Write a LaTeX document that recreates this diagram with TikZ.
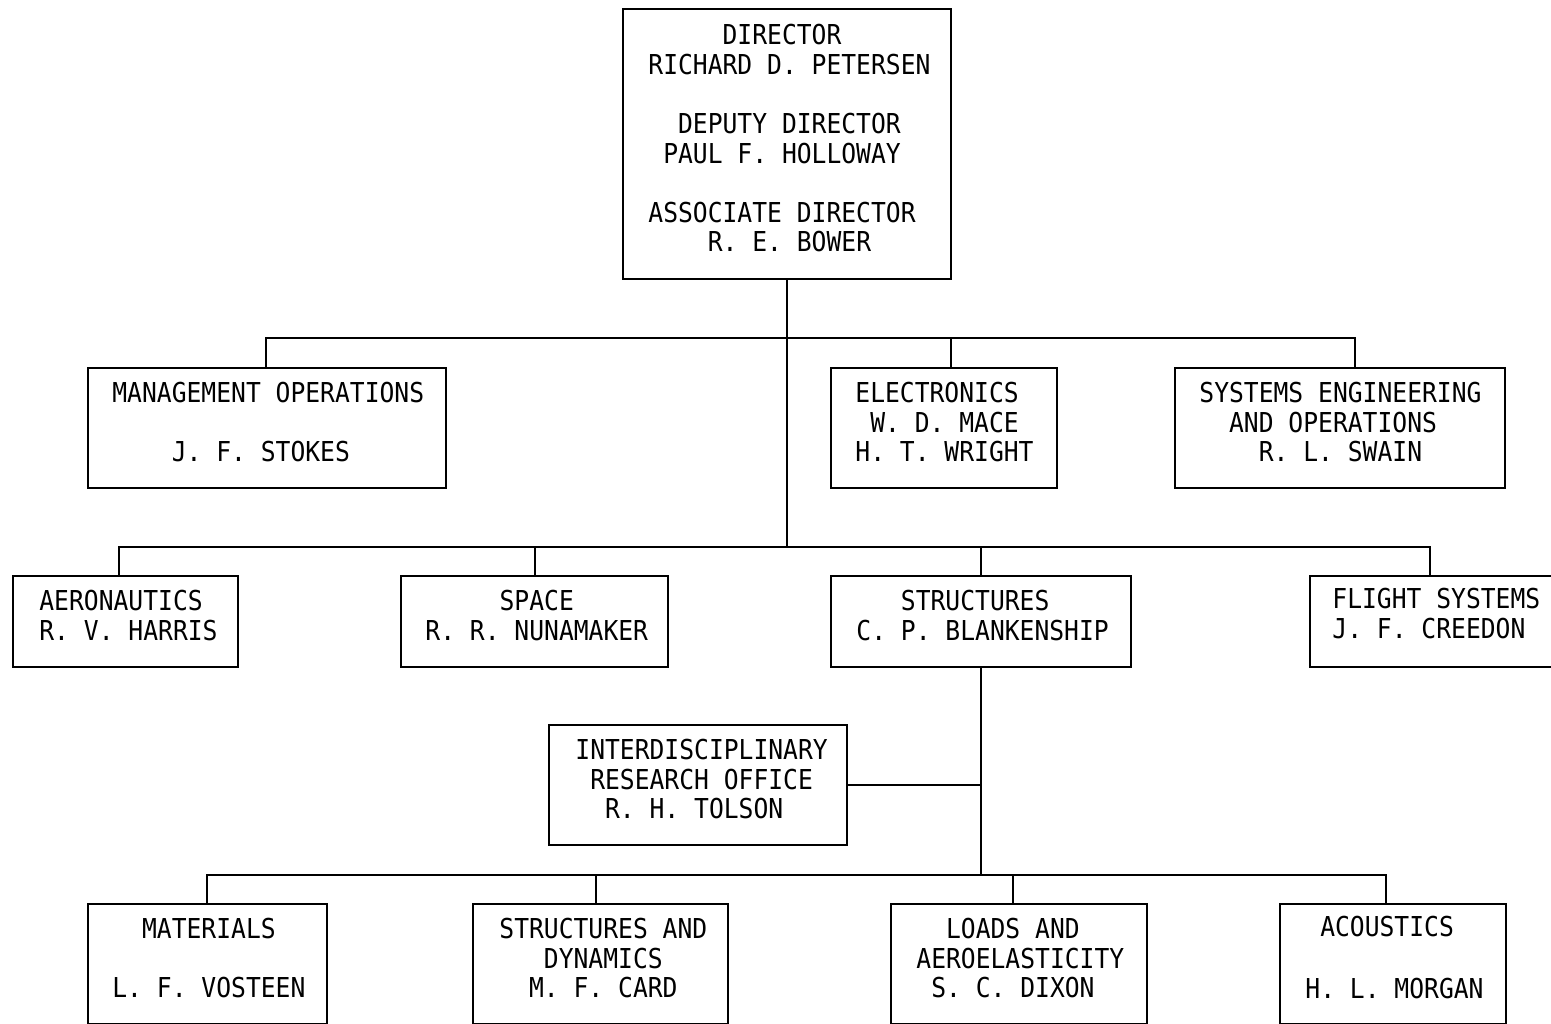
\documentclass[tikz,border=0pt]{standalone}
\usepackage{fontspec}
\usetikzlibrary{fit}
\newfontfamily\chartfont[FakeStretch=0.9]{DejaVu Sans Mono}
\tikzset{
  orgbox/.style={draw, line width=1.1pt, inner sep=0pt},
  orgtxt/.style={font=\chartfont\fontsize{13.7}{14.8}\selectfont, align=left, anchor=north west, inner sep=0pt},
  wire/.style={line width=1.1pt}
}
\begin{document}
\begin{tikzpicture}[x=0.5pt,y=-0.5pt]
\clip (0,0) rectangle (1551,1023);
% boxes
\node[orgbox, fit={(623,9) (951,279)}] (dir) {};
\node[orgbox, fit={(88,368) (446,488)}] (mgmt) {};
\node[orgbox, fit={(831,368) (1057,488)}] (elec) {};
\node[orgbox, fit={(1175,368) (1505,488)}] (sys) {};
\node[orgbox, fit={(13,576) (238,667)}] (aero) {};
\node[orgbox, fit={(401,576) (668,667)}] (space) {};
\node[orgbox, fit={(831,576) (1131,667)}] (struct) {};
\node[orgbox, fit={(1310,576) (1566,667)}] (flight) {};
\node[orgbox, fit={(549,725) (847,845)}] (idro) {};
\node[orgbox, fit={(88,904) (327,1024)}] (mat) {};
\node[orgbox, fit={(473,904) (728,1024)}] (sdyn) {};
\node[orgbox, fit={(891,904) (1147,1024)}] (loads) {};
\node[orgbox, fit={(1280,904) (1506,1024)}] (acou) {};
% texts
\node[orgtxt] (tdir) at (648,24) {~~~~~DIRECTOR\\RICHARD D. PETERSEN\\[14.8pt]~~DEPUTY DIRECTOR\\~PAUL F. HOLLOWAY\\[14.8pt]ASSOCIATE DIRECTOR\\~~~~R. E. BOWER};
\node[orgtxt] (tmgmt) at (112,382) {MANAGEMENT OPERATIONS\\[14.8pt]~~~~J. F. STOKES};
\node[orgtxt] (telec) at (855,382) {ELECTRONICS\\~W. D. MACE\\H. T. WRIGHT};
\node[orgtxt] (tsys) at (1199,382) {SYSTEMS ENGINEERING\\~~AND OPERATIONS\\~~~~R. L. SWAIN};
\node[orgtxt] (taero) at (39,590) {AERONAUTICS\\R. V. HARRIS};
\node[orgtxt] (tspace) at (425,590) {~~~~~SPACE\\R. R. NUNAMAKER};
\node[orgtxt] (tstruct) at (856,590) {~~~STRUCTURES\\C. P. BLANKENSHIP};
\node[orgtxt] (tflight) at (1332,588) {FLIGHT SYSTEMS\\J. F. CREEDON};
\node[orgtxt] (tidro) at (575,739) {INTERDISCIPLINARY\\~RESEARCH OFFICE\\~~R. H. TOLSON};
\node[orgtxt] (tmat) at (112,918) {~~MATERIALS\\[14.8pt]L. F. VOSTEEN};
\node[orgtxt] (tsdyn) at (499,918) {STRUCTURES AND\\~~~DYNAMICS\\~~M. F. CARD};
\node[orgtxt] (tloads) at (916,918) {~~LOADS AND\\AEROELASTICITY\\~S. C. DIXON};
\node[orgtxt] (tacou) at (1305,916) {~ACOUSTICS\\[16pt]H. L. MORGAN};
% bus coordinates
\coordinate (b1l) at (266,338);
\coordinate (b1e) at (951,338);
\coordinate (b1r) at (1355,338);
\coordinate (b2l) at (119,547);
\coordinate (b2s) at (535,547);
\coordinate (b2c) at (981,547);
\coordinate (b2r) at (1430,547);
\coordinate (b3l) at (207,875);
\coordinate (b3s) at (596,875);
\coordinate (b3c) at (981,875);
\coordinate (b3d) at (1013,875);
\coordinate (b3r) at (1386,875);
\coordinate (bid) at (981,785);
% connectors
\draw[wire] (dir.south) -- (dir.south |- b2l);
\draw[wire] (b1l |- mgmt.north) -- (b1l) -- (b1r) -- (b1r |- sys.north);
\draw[wire] (b1e) -- (b1e |- elec.north);
\draw[wire] (b2l |- aero.north) -- (b2l) -- (b2r) -- (b2r |- flight.north);
\draw[wire] (b2s) -- (b2s |- space.north);
\draw[wire] (b2c) -- (b2c |- struct.north);
\draw[wire] (struct.south) -- (b3c);
\draw[wire] (idro.east |- bid) -- (bid);
\draw[wire] (b3l |- mat.north) -- (b3l) -- (b3r) -- (b3r |- acou.north);
\draw[wire] (b3s) -- (b3s |- sdyn.north);
\draw[wire] (b3d) -- (b3d |- loads.north);
\end{tikzpicture}
\end{document}
